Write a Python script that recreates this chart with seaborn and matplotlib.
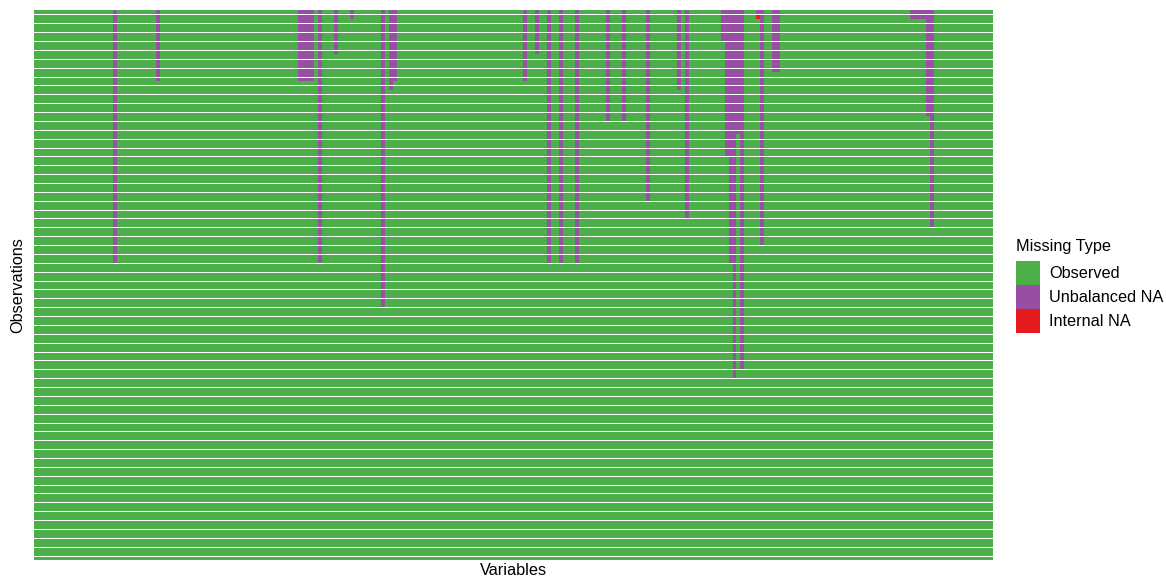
import numpy as np
import matplotlib
matplotlib.use('Agg')
import matplotlib.pyplot as plt
from matplotlib.colors import ListedColormap
from matplotlib.patches import Rectangle
import seaborn as sns

plt.rcParams['font.family'] = ['Liberation Sans', 'DejaVu Sans']

# grid size: observations (rows) x variables (columns)
n_obs = 124
n_vars = 243

# unbalanced NA: variable index and number of leading missing observations
na_vars = [20, 31, 67, 68, 69, 70, 72, 76, 80, 88, 90, 91, 124, 127, 130, 133, 137, 145,
           149, 155, 163, 165, 174, 175, 176, 177, 178, 179, 183, 184, 187, 188,
           222, 223, 224, 225, 226, 227]
na_len = [57, 16, 16, 16, 16, 16, 57, 10, 2, 67, 18, 16, 16, 10, 57, 57, 57, 25,
          25, 43, 18, 47, 7, 33, 57, 83, 28, 81, 1, 53, 14, 14,
          2, 2, 2, 2, 24, 49]

# internal NA cells
internal_vars = [183]
internal_rows = [1]

types = ['Observed', 'Unbalanced NA', 'Internal NA']
colors = ['#4DAF4A', '#984EA3', '#E41A1C']

grid = np.zeros((n_obs, n_vars), dtype=int)
for v, n in zip(na_vars, na_len):
    grid[:n, v] = 1
for v, r in zip(internal_vars, internal_rows):
    grid[r, v] = 2

W, H = 1166, 579
fig = plt.figure(figsize=(W / 100, H / 100), dpi=100)
ax = fig.add_axes([34 / W, 19 / H, 959 / W, 550 / H])
sns.heatmap(grid, cmap=ListedColormap(colors), vmin=-0.5, vmax=2.5, cbar=False,
            xticklabels=False, yticklabels=False, ax=ax)
ax.collections[0].set_antialiased(False)

# white separators between observation bands
for k in range(1, n_obs, 2):
    ax.axhline(k, color='white', lw=0.7, antialiased=False)

ax.set_xlabel('Variables', fontsize=11.7, labelpad=2)
ax.set_ylabel('Observations', fontsize=11.7, labelpad=6)

# legend
fig.text(1016 / W, 1 - 246 / H, 'Missing Type', fontsize=11.7, ha='left', va='center')
for i, (lab, col) in enumerate(zip(types, colors)):
    top = 261 + 24 * i
    fig.add_artist(Rectangle((1016 / W, 1 - (top + 24) / H), 24 / W, 24 / H,
                             transform=fig.transFigure, facecolor=col, edgecolor='none'))
    fig.text(1049 / W, 1 - (top + 12) / H, lab, fontsize=11.7, ha='left', va='center')

fig.savefig('out.png', dpi=100)
